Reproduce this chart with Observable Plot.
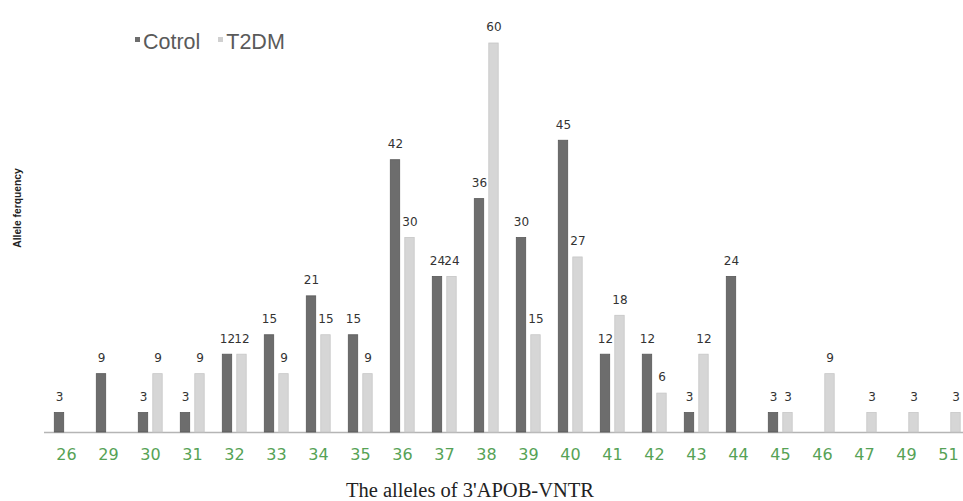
<!DOCTYPE html>
<html>
<head>
<meta charset="utf-8">
<script src="https://cdn.jsdelivr.net/npm/d3@7"></script>
<script src="https://cdn.jsdelivr.net/npm/@observablehq/plot@0.6"></script>
<style>
  html, body { margin: 0; padding: 0; background: #fff; overflow: hidden; }
  #wrap { position: relative; width: 963px; height: 501px; }
  #wrap svg { position: absolute; left: 0; top: 0; }
  .legend { position: absolute; top: 29px; left: 135px; font-family: "Liberation Sans", Arial, sans-serif; font-size: 21.5px; color: #5a5a5a; white-space: nowrap; line-height: 26px; }
  .legend span.sw { display: inline-block; width: 5px; height: 5px; vertical-align: 7px; margin-right: 3px; }
  .ytitle { position: absolute; left: 17px; top: 208px; transform: translate(-50%, -50%) rotate(-90deg); font-family: "Liberation Sans", Arial, sans-serif; font-weight: bold; font-size: 10.3px; color: #222; white-space: nowrap; }
  .xtitle { position: absolute; left: 470px; top: 490px; transform: translate(-50%, -50%); font-family: "Liberation Serif", "Times New Roman", serif; font-size: 20.5px; color: #222; white-space: nowrap; }
</style>
</head>
<body>
<div id="wrap">
  <div class="legend"><span class="sw" style="background:#6d6d6d"></span>Cotrol&nbsp;&nbsp;&nbsp;<span class="sw" style="background:#d0d0d0"></span>T2DM</div>
  <div class="ytitle">Allele ferquency</div>
  <div class="xtitle">The alleles of 3'APOB-VNTR</div>
</div>
<script>
const alleles = ["26","29","30","31","32","33","34","35","36","37","38","39","40","41","42","43","44","45","46","47","49","51"];
const control = [3, 9, 3, 3, 12, 15, 21, 15, 42, 24, 36, 30, 45, 12, 12, 3, 24, 3, 0, 0, 0, 0];
const t2dm    = [0, 0, 9, 9, 12,  9, 15,  9, 30, 24, 60, 15, 27, 18,  6, 12, 0, 3, 9, 3, 3, 3];
const seriesNames = ["Cotrol", "T2DM"];

const data = [];
alleles.forEach((a, i) => {
  data.push({allele: a, series: seriesNames[0], value: control[i]});
  data.push({allele: a, series: seriesNames[1], value: t2dm[i]});
});
const ctl = data.filter(d => d.series === "Cotrol" && d.value > 0);
const t2 = data.filter(d => d.series === "T2DM" && d.value > 0);

const chart = Plot.plot({
  width: 963,
  height: 501,
  marginTop: 43,
  marginBottom: 69,
  marginLeft: 44,
  marginRight: 0,
  style: {background: "transparent", overflow: "hidden"},
  x: {type: "band", domain: alleles, range: [44, 970], padding: 0, axis: null},
  y: {domain: [0, 60], axis: null},
  marks: [
    Plot.ruleY([0], {stroke: "#b5b5b5", strokeWidth: 1.5}),
    Plot.barY(ctl, {x: "allele", y: "value", fill: "#6d6d6d", stroke: "#595959", strokeWidth: 0.8, insetLeft: 16.3, insetRight: 16.3, dx: -7}),
    Plot.barY(t2, {x: "allele", y: "value", fill: "#d6d6d6", stroke: "#c6c6c6", strokeWidth: 0.8, insetLeft: 16.3, insetRight: 16.3, dx: 7.5}),
    Plot.text(ctl, {x: "allele", y: "value", text: d => String(d.value), dx: -7, dy: -16, fontSize: 12, fill: "#333", fontFamily: "DejaVu Sans"}),
    Plot.text(t2, {x: "allele", y: "value", text: d => String(d.value), dx: 7.5, dy: -16, fontSize: 12, fill: "#333", fontFamily: "DejaVu Sans"}),
    Plot.axisX({domain: alleles, tickSize: 0, tickPadding: 16, fontSize: 16, fill: "#56a256", fontFamily: "DejaVu Sans", label: null})
  ]
});
document.getElementById("wrap").prepend(chart);
</script>
</body>
</html>
